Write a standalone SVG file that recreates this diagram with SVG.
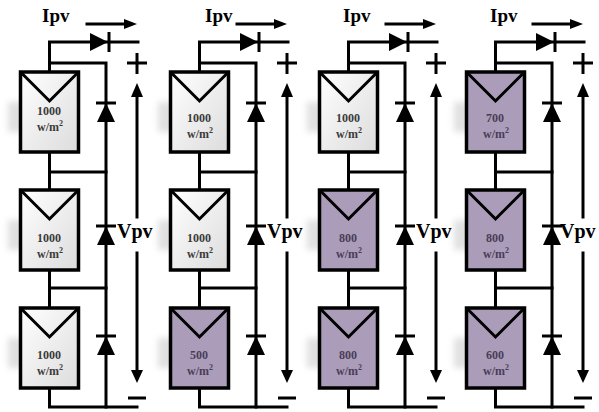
<svg xmlns="http://www.w3.org/2000/svg" xmlns:xlink="http://www.w3.org/1999/xlink" width="599" height="412" viewBox="0 0 599 412">
<style>
.w{stroke:#000;stroke-width:3;fill:none;stroke-linecap:square}
.pnl{stroke:#000;stroke-width:3.5}
.g{fill:url(#gg)}
.p{fill:#ab9db9}
.v{stroke:#000;stroke-width:3;fill:none}
.t{font-family:"Liberation Serif",serif;font-weight:bold;font-size:12px;text-anchor:middle}
.tg{fill:#3a3a3a}
.tp{fill:#4a3c58}
.big{font-family:"Liberation Serif",serif;font-weight:bold;fill:#000}
.sh{fill:#9a9a9a;opacity:.3;filter:url(#blur)}
</style>
<defs>
<linearGradient id="gg" x1="0" y1="0" x2="1" y2="1">
<stop offset="0" stop-color="#ffffff"/>
<stop offset="1" stop-color="#dcdcdc"/>
</linearGradient>
<filter id="blur" x="-50%" y="-50%" width="200%" height="200%"><feGaussianBlur stdDeviation="3"/></filter>
<g id="dR"><polygon points="-18,-9 -18,9 0,0" fill="#000"/><line x1="1" y1="-10" x2="1" y2="10" stroke="#000" stroke-width="3"/></g>
<g id="dU"><polygon points="-9,19 9,19 0,0" fill="#000"/><line x1="-10" y1="0" x2="10" y2="0" stroke="#000" stroke-width="3"/></g>
<g id="panelG"><rect class="sh" x="8" y="30" width="20" height="30"/><rect class="pnl g" x="20.5" y="0" width="58" height="80"/><polyline class="v" points="20.5,0 49.5,29 78.5,0"/></g>
<g id="panelP"><rect class="sh" x="8" y="30" width="20" height="30"/><rect class="pnl p" x="20.5" y="0" width="58" height="80"/><polyline class="v" points="20.5,0 49.5,29 78.5,0"/></g>
<g id="wires">
<polyline class="w" points="138,42 49.5,42 49.5,72"/>
<polyline class="w" points="49.5,63 106,63 106,407"/>
<line class="w" x1="49.5" y1="152" x2="49.5" y2="190"/>
<line class="w" x1="49.5" y1="172" x2="106" y2="172"/>
<line class="w" x1="49.5" y1="270" x2="49.5" y2="308"/>
<line class="w" x1="49.5" y1="288" x2="106" y2="288"/>
<polyline class="w" points="49.5,388 49.5,407 137,407"/>
<line class="w" x1="137" y1="96" x2="137" y2="217"/>
<line class="w" x1="137" y1="253" x2="137" y2="371"/>
<polygon points="131,97 143,97 137,83" fill="#000"/>
<polygon points="131,370 143,370 137,383" fill="#000"/>
<line class="w" x1="87" y1="24" x2="126" y2="24"/>
<polygon points="124,19 137,24 124,29" fill="#000"/>
<line x1="127" y1="63" x2="147" y2="63" stroke="#000" stroke-width="3"/>
<line x1="137" y1="53" x2="137" y2="74" stroke="#000" stroke-width="3"/>
<line x1="128" y1="398" x2="146" y2="398" stroke="#000" stroke-width="3"/>
</g>
</defs>

<g id="connectors">
<use xlink:href="#wires"/>
<use xlink:href="#wires" transform="translate(150,0)"/>
<use xlink:href="#wires" transform="translate(299,0)"/>
<use xlink:href="#wires" transform="translate(446,0)"/>
</g>

<g id="string1">
<g id="s1-p1"><use xlink:href="#panelG" y="72"/><text class="t tg" x="49" y="115">1000</text><text class="t tg" x="50" y="131">w/m<tspan dy="-5" font-size="8">2</tspan></text></g>
<g id="s1-p2"><use xlink:href="#panelG" y="190"/><text class="t tg" x="49" y="242">1000</text><text class="t tg" x="50" y="258">w/m<tspan dy="-5" font-size="8">2</tspan></text></g>
<g id="s1-p3"><use xlink:href="#panelG" y="308"/><text class="t tg" x="49" y="359">1000</text><text class="t tg" x="50" y="375">w/m<tspan dy="-5" font-size="8">2</tspan></text></g>
<g id="s1-d0"><use xlink:href="#dR" x="108" y="42"/></g>
<g id="s1-d1"><use xlink:href="#dU" x="106" y="103"/></g>
<g id="s1-d2"><use xlink:href="#dU" x="106" y="226"/></g>
<g id="s1-d3"><use xlink:href="#dU" x="106" y="336"/></g>
<text class="big" x="42" y="22" font-size="19">Ipv</text>
<text class="big" x="117" y="238" font-size="20">Vpv</text>
</g>

<g id="string2" transform="translate(150,0)">
<g id="s2-p1"><use xlink:href="#panelG" y="72"/><text class="t tg" x="49" y="122">1000</text><text class="t tg" x="50" y="138">w/m<tspan dy="-5" font-size="8">2</tspan></text></g>
<g id="s2-p2"><use xlink:href="#panelG" y="190"/><text class="t tg" x="49" y="242">1000</text><text class="t tg" x="50" y="258">w/m<tspan dy="-5" font-size="8">2</tspan></text></g>
<g id="s2-p3"><use xlink:href="#panelP" y="308"/><text class="t tp" x="49" y="359">500</text><text class="t tp" x="50" y="375">w/m<tspan dy="-5" font-size="8">2</tspan></text></g>
<g id="s2-d0"><use xlink:href="#dR" x="108" y="42"/></g>
<g id="s2-d1"><use xlink:href="#dU" x="106" y="103"/></g>
<g id="s2-d2"><use xlink:href="#dU" x="106" y="226"/></g>
<g id="s2-d3"><use xlink:href="#dU" x="106" y="336"/></g>
<text class="big" x="55" y="22" font-size="19">Ipv</text>
<text class="big" x="117" y="238" font-size="20">Vpv</text>
</g>

<g id="string3" transform="translate(299,0)">
<g id="s3-p1"><use xlink:href="#panelG" y="72"/><text class="t tg" x="49" y="122">1000</text><text class="t tg" x="50" y="138">w/m<tspan dy="-5" font-size="8">2</tspan></text></g>
<g id="s3-p2"><use xlink:href="#panelP" y="190"/><text class="t tp" x="49" y="242">800</text><text class="t tp" x="50" y="258">w/m<tspan dy="-5" font-size="8">2</tspan></text></g>
<g id="s3-p3"><use xlink:href="#panelP" y="308"/><text class="t tp" x="49" y="359">800</text><text class="t tp" x="50" y="375">w/m<tspan dy="-5" font-size="8">2</tspan></text></g>
<g id="s3-d0"><use xlink:href="#dR" x="108" y="42"/></g>
<g id="s3-d1"><use xlink:href="#dU" x="106" y="103"/></g>
<g id="s3-d2"><use xlink:href="#dU" x="106" y="226"/></g>
<g id="s3-d3"><use xlink:href="#dU" x="106" y="336"/></g>
<text class="big" x="44" y="22" font-size="19">Ipv</text>
<text class="big" x="117" y="238" font-size="20">Vpv</text>
</g>

<g id="string4" transform="translate(446,0)">
<g id="s4-p1"><use xlink:href="#panelP" y="72"/><text class="t tp" x="49" y="122">700</text><text class="t tp" x="50" y="138">w/m<tspan dy="-5" font-size="8">2</tspan></text></g>
<g id="s4-p2"><use xlink:href="#panelP" y="190"/><text class="t tp" x="49" y="242">800</text><text class="t tp" x="50" y="258">w/m<tspan dy="-5" font-size="8">2</tspan></text></g>
<g id="s4-p3"><use xlink:href="#panelP" y="308"/><text class="t tp" x="49" y="359">600</text><text class="t tp" x="50" y="375">w/m<tspan dy="-5" font-size="8">2</tspan></text></g>
<g id="s4-d0"><use xlink:href="#dR" x="108" y="42"/></g>
<g id="s4-d1"><use xlink:href="#dU" x="106" y="103"/></g>
<g id="s4-d2"><use xlink:href="#dU" x="106" y="226"/></g>
<g id="s4-d3"><use xlink:href="#dU" x="106" y="336"/></g>
<text class="big" x="44" y="22" font-size="19">Ipv</text>
<text class="big" x="114" y="238" font-size="20">Vpv</text>
</g>
</svg>
